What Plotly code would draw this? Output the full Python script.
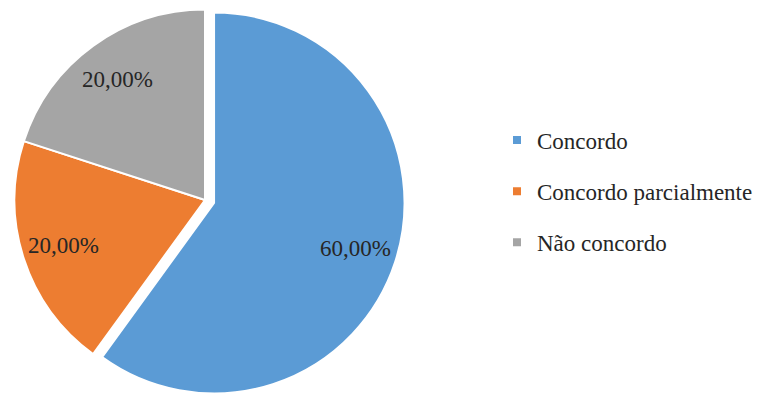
import math
import plotly.graph_objects as go

categories = ["Concordo", "Concordo parcialmente", "Não concordo"]
values = [60, 20, 20]
colors = ["#5B9BD5", "#ED7D31", "#A5A5A5"]
pulls = [0.05, 0, 0]

total = sum(values)
labels_text = [f"{v / total * 100:.2f}%".replace(".", ",") for v in values]

W, H = 764, 400
font_family = "Liberation Serif"
text_color = "#262626"

dom_x = [0, 410 / W]
dom_y = [0, 1]

fig = go.Figure()
fig.add_trace(go.Pie(
    labels=categories,
    values=values,
    textinfo="none",
    marker=dict(colors=colors, line=dict(color="white", width=2)),
    sort=False,
    direction="clockwise",
    rotation=0,
    pull=pulls,
    showlegend=False,
    domain=dict(x=dom_x, y=dom_y),
    hoverinfo="label+percent",
))

# percentage labels placed along each slice's mid-angle (same geometry plotly uses)
box_w = W * (dom_x[1] - dom_x[0])
box_h = H * (dom_y[1] - dom_y[0])
r = min(box_w, box_h) / (2 + 2 * max(pulls))
cx = W * (dom_x[0] + dom_x[1]) / 2
cy = H * (1 - (dom_y[0] + dom_y[1]) / 2)
cum = 0
for v, p, t in zip(values, pulls, labels_text):
    mid = (cum + v / 2) / total * 2 * math.pi
    cum += v
    dx, dy = math.sin(mid), -math.cos(mid)
    rad = r * (0.78 + p)
    px = cx + dx * rad
    py = cy + dy * rad
    fig.add_annotation(
        x=px / W, y=1 - py / H, xref="paper", yref="paper",
        text=t, showarrow=False, xanchor="center", yanchor="middle",
        font=dict(family=font_family, size=23, color=text_color),
    )

for i, (name, col) in enumerate(zip(categories, colors)):
    fig.add_trace(go.Scatter(
        x=[None], y=[None], mode="markers", name=name,
        marker=dict(symbol="square", size=8, color=col),
        legendgroup=f"g{i}", showlegend=True,
    ))

fig.update_layout(
    width=W, height=H,
    margin=dict(l=0, r=0, t=0, b=0),
    paper_bgcolor="white", plot_bgcolor="white",
    xaxis=dict(visible=False), yaxis=dict(visible=False),
    showlegend=True,
    legend=dict(
        x=497 / W, y=0.521, xanchor="left", yanchor="middle",
        font=dict(family=font_family, size=23, color=text_color),
        tracegroupgap=18.2, traceorder="grouped",
        itemwidth=30, bgcolor="rgba(0,0,0,0)",
    ),
)

fig.write_html("out.html")
